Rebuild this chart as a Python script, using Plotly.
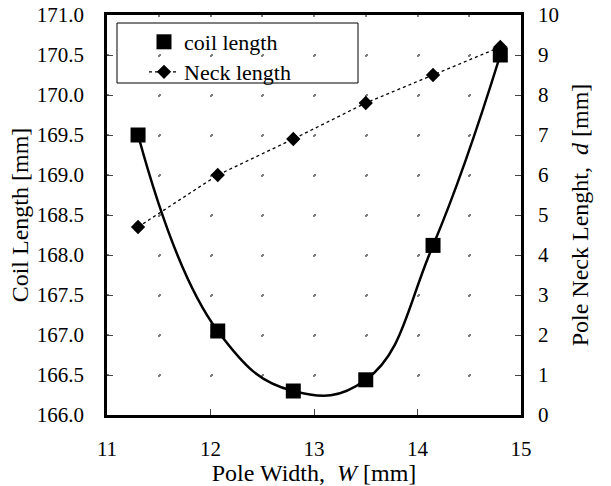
import plotly.graph_objects as go

pole_width = [11.3, 12.07, 12.8, 13.5, 14.15, 14.8]
coil_length = [169.5, 167.05, 166.3, 166.44, 168.12, 170.5]
neck_length = [4.7, 6.0, 6.9, 7.8, 8.5, 9.2]

FONT = "Liberation Serif"

fig = go.Figure()
# smooth fit line for coil length
fig.add_trace(go.Scatter(x=pole_width, y=coil_length, mode="lines",
                         line=dict(color="black", width=2.5, shape="spline", smoothing=1.25),
                         showlegend=False, hoverinfo="skip"))
fig.add_trace(go.Scatter(x=pole_width, y=coil_length, mode="markers", name="coil length",
                         marker=dict(symbol="square", size=15, color="black"),
                         legend="legend"))
fig.add_trace(go.Scatter(x=pole_width, y=neck_length, mode="lines+markers", name="Neck length",
                         line=dict(color="black", width=1.3, dash="dot"),
                         marker=dict(symbol="diamond", size=11, color="black"),
                         yaxis="y2", legend="legend2"))

grid_style = dict(gridcolor="#808080", gridwidth=2)

fig.update_layout(
    width=611, height=486,
    margin=dict(l=107, r=90, t=15, b=71),
    paper_bgcolor="white", plot_bgcolor="white",
    font=dict(family=FONT, size=21, color="black"),
    xaxis=dict(range=[11, 15], dtick=1, tick0=11, ticks="inside", ticklen=6, tickwidth=1,
               showline=True, linewidth=2.5, linecolor="black", mirror=True,
               showgrid=True, griddash="2px,38px", **grid_style,
               minor=dict(dtick=0.5, showgrid=True, griddash="2px,38px", **grid_style),
               zeroline=False, ticklabelstandoff=13, automargin=False,
               title=dict(text="Pole Width,  <i>W</i> [mm]", font=dict(size=24), standoff=2)),
    yaxis=dict(range=[166, 171], dtick=0.5, tickformat=".1f", ticks="inside", ticklen=6,
               showline=True, linewidth=2.5, linecolor="black", mirror=True,
               showgrid=True, griddash="2px,49.75px", **grid_style,
               zeroline=False, ticklabelstandoff=16, automargin=False,
               title=dict(text="Coil Length [mm]", font=dict(size=24), standoff=2)),
    yaxis2=dict(range=[0, 10], dtick=1, overlaying="y", side="right", ticks="inside", ticklen=6,
                showline=True, linewidth=2.5, linecolor="black", showgrid=False, zeroline=False,
                ticklabelstandoff=10, automargin=False,
                title=dict(text="Pole Neck Lenght,  <i>d</i> [mm]", font=dict(size=24), standoff=14)),
    legend=dict(x=(144 - 107) / 414, y=(415 - 42) / 400, xanchor="left", yanchor="middle",
                bgcolor="rgba(0,0,0,0)", borderwidth=0, font=dict(size=22)),
    legend2=dict(x=(144 - 107) / 414, y=(415 - 72) / 400, xanchor="left", yanchor="middle",
                 bgcolor="rgba(0,0,0,0)", borderwidth=0, font=dict(size=22)),
    shapes=[dict(type="rect", xref="paper", yref="paper",
                 x0=(117 - 107) / 414, x1=(358 - 107) / 414,
                 y0=(415 - 83) / 400, y1=(415 - 23) / 400,
                 line=dict(color="black", width=1), fillcolor="white", layer="below")],
)

fig.write_html("out.html", config={"displayModeBar": False},
               post_script="document.body.style.margin='0';document.body.style.padding='0';")
